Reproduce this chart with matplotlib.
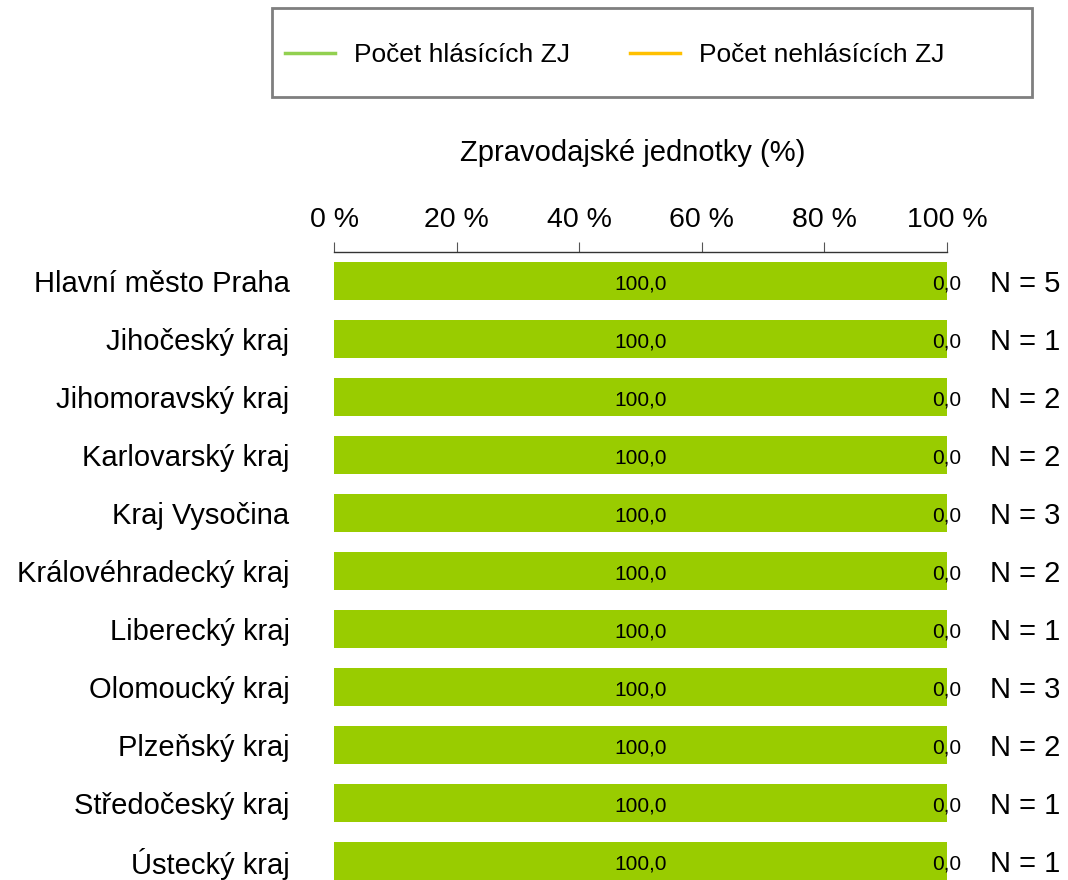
import matplotlib
matplotlib.use("Agg")
import matplotlib.pyplot as plt
import numpy as np
from matplotlib.ticker import FuncFormatter
from matplotlib.lines import Line2D
from matplotlib.patches import Rectangle

plt.rcParams['font.family'] = ['Liberation Sans', 'DejaVu Sans']

# data
regions = ["Hlavní město Praha", "Jihočeský kraj", "Jihomoravský kraj", "Karlovarský kraj",
           "Kraj Vysočina", "Královéhradecký kraj", "Liberecký kraj", "Olomoucký kraj",
           "Plzeňský kraj", "Středočeský kraj", "Ústecký kraj"]
reporting = [100.0, 100.0, 100.0, 100.0, 100.0, 100.0, 100.0, 100.0, 100.0, 100.0, 100.0]
not_reporting = [0.0, 0.0, 0.0, 0.0, 0.0, 0.0, 0.0, 0.0, 0.0, 0.0, 0.0]
n_units = [5, 1, 2, 2, 3, 2, 1, 3, 2, 1, 1]
series_names = ["Počet hlásících ZJ", "Počet nehlásících ZJ"]
x_ticks = [0, 20, 40, 60, 80, 100]

GREEN = "#99cc00"
ORANGE = "#ffc000"

W, H = 1068, 880
fig = plt.figure(figsize=(W / 100, H / 100), dpi=100)

# axes reaches a bit below the figure (last row is cut off in the reference)
left, right = 334 / W, 947 / W
top, bottom = 1 - 252 / H, 1 - 890 / H
ax = fig.add_axes([left, bottom, right - left, top - bottom])

y = np.arange(len(regions))
ax.barh(y, reporting, height=0.66, color=GREEN, label=series_names[0])
ax.barh(y, not_reporting, left=reporting, height=0.66, color=ORANGE, label=series_names[1])

for i in range(len(regions)):
    ax.text(reporting[i] / 2, y[i] + 0.05, f"{reporting[i]:.1f}".replace(".", ","),
            ha="center", va="center", fontsize=15)
    ax.text(reporting[i] + not_reporting[i] / 2, y[i] + 0.05,
            f"{not_reporting[i]:.1f}".replace(".", ","),
            ha="center", va="center", fontsize=15)
    ax.text(107.0, y[i] + 0.05, f"N = {n_units[i]}", ha="left", va="center", fontsize=21)

ax.set_xlim(0, 100)
ax.set_ylim(len(regions) - 0.5, -0.5)
ax.set_yticks(y)
ax.set_yticklabels(regions, fontsize=21)
ax.tick_params(axis="y", length=0, pad=32)

ax.xaxis.tick_top()
ax.xaxis.set_label_position("top")
ax.set_xticks(x_ticks)
ax.xaxis.set_major_formatter(FuncFormatter(lambda v, p: f"{v:.0f} %"))
ax.tick_params(axis="x", direction="out", length=7.5, color="#555555", labelsize=20.5, pad=6)
ax.set_xlabel("Zpravodajské jednotky (%)", fontsize=21, labelpad=33)
ax.xaxis.label.set_x(0.488)

for s in ["bottom", "left", "right"]:
    ax.spines[s].set_visible(False)
ax.spines["top"].set_color("#333333")
ax.spines["top"].set_linewidth(1.0)

# legend box
fig.patches.append(Rectangle((272 / W, 1 - 97 / H), 760 / W, 89 / H, transform=fig.transFigure,
                             fill=False, edgecolor="#7f7f7f", linewidth=2))
handles = [Line2D([0], [0], color="#92d050", lw=2.5), Line2D([0], [0], color=ORANGE, lw=2.5)]
fig.legend(handles, series_names, loc="center left", bbox_to_anchor=(285 / W, 1 - 55 / H),
           ncol=2, fontsize=19, frameon=False, borderpad=0, borderaxespad=0,
           handlelength=1.9, handletextpad=0.7, columnspacing=2.3)

fig.savefig("out.png", dpi=100)
